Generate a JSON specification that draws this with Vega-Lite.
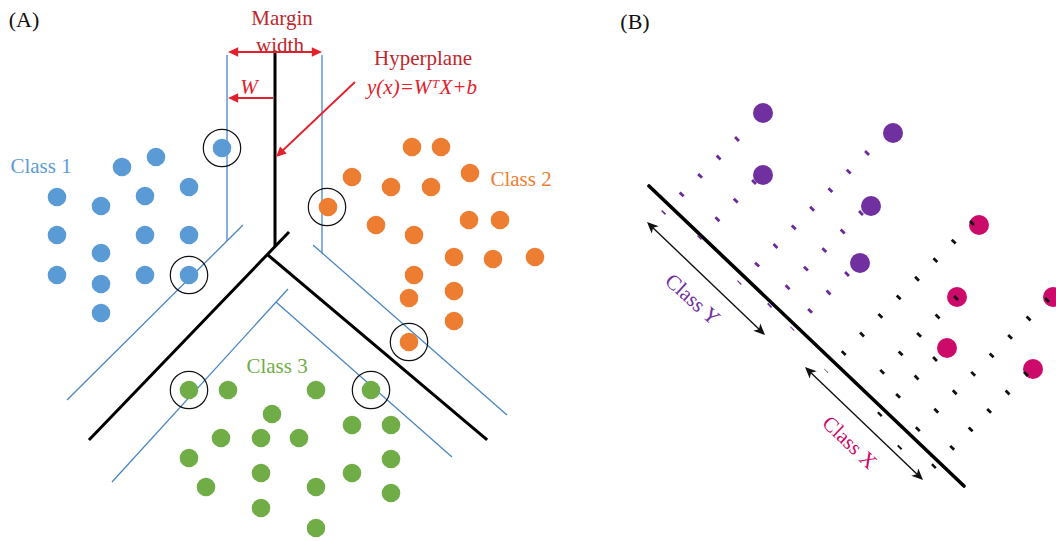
{
  "$schema": "https://vega.github.io/schema/vega-lite/v6.json",
  "width": 1056,
  "height": 541,
  "autosize": {"type": "none"},
  "padding": 0,
  "background": "white",
  "config": {"view": {"stroke": null}, "font": "Liberation Serif"},
  "datasets": {
    "segments": [
      {"k": "hA", "x": 275, "y": 52, "x2": 275, "y2": 245},
      {"k": "hA", "x": 288, "y": 233, "x2": 90, "y2": 439},
      {"k": "hA", "x": 268, "y": 255, "x2": 486, "y2": 439},
      {"k": "hB", "x": 649, "y": 186, "x2": 964, "y2": 486},
      {"k": "m", "x": 227, "y": 55, "x2": 227, "y2": 241},
      {"k": "m", "x": 67, "y": 400, "x2": 243, "y2": 225},
      {"k": "m", "x": 322, "y": 55, "x2": 322, "y2": 253},
      {"k": "m", "x": 313, "y": 245, "x2": 507, "y2": 415},
      {"k": "m", "x": 112, "y": 482, "x2": 288, "y2": 289},
      {"k": "m", "x": 276, "y": 302, "x2": 452, "y2": 457},
      {"k": "ra", "x": 231, "y": 52, "x2": 319, "y2": 52},
      {"k": "ra", "x": 273, "y": 98, "x2": 231, "y2": 98},
      {"k": "ra", "x": 355, "y": 82, "x2": 279, "y2": 154},
      {"k": "ba", "x": 650, "y": 225, "x2": 762, "y2": 332},
      {"k": "ba", "x": 808, "y": 370, "x2": 920, "y2": 477},
      {"k": "dY", "x": 738, "y": 138, "x2": 663, "y2": 213},
      {"k": "dY", "x": 755, "y": 181, "x2": 699, "y2": 238},
      {"k": "dY", "x": 868, "y": 152, "x2": 739, "y2": 283},
      {"k": "dY", "x": 862, "y": 212, "x2": 769, "y2": 306},
      {"k": "dY", "x": 848, "y": 273, "x2": 792, "y2": 329},
      {"k": "dX", "x": 973, "y": 222, "x2": 826, "y2": 371},
      {"k": "dX", "x": 957, "y": 297, "x2": 881, "y2": 373},
      {"k": "dX", "x": 936, "y": 358, "x2": 879, "y2": 415},
      {"k": "dX", "x": 1048, "y": 299, "x2": 899, "y2": 448},
      {"k": "dX", "x": 1027, "y": 373, "x2": 933, "y2": 467}
    ],
    "points": [
      {"cls": "Class 1", "p": "A", "x": 222, "y": 148},
      {"cls": "Class 1", "p": "A", "x": 122, "y": 167},
      {"cls": "Class 1", "p": "A", "x": 156, "y": 157},
      {"cls": "Class 1", "p": "A", "x": 57, "y": 197},
      {"cls": "Class 1", "p": "A", "x": 101, "y": 206},
      {"cls": "Class 1", "p": "A", "x": 145, "y": 196},
      {"cls": "Class 1", "p": "A", "x": 189, "y": 187},
      {"cls": "Class 1", "p": "A", "x": 57, "y": 235},
      {"cls": "Class 1", "p": "A", "x": 101, "y": 253},
      {"cls": "Class 1", "p": "A", "x": 145, "y": 235},
      {"cls": "Class 1", "p": "A", "x": 189, "y": 235},
      {"cls": "Class 1", "p": "A", "x": 57, "y": 275},
      {"cls": "Class 1", "p": "A", "x": 101, "y": 284},
      {"cls": "Class 1", "p": "A", "x": 145, "y": 275},
      {"cls": "Class 1", "p": "A", "x": 189, "y": 275},
      {"cls": "Class 1", "p": "A", "x": 101, "y": 313},
      {"cls": "Class 2", "p": "A", "x": 412, "y": 147},
      {"cls": "Class 2", "p": "A", "x": 441, "y": 147},
      {"cls": "Class 2", "p": "A", "x": 470, "y": 173},
      {"cls": "Class 2", "p": "A", "x": 352, "y": 177},
      {"cls": "Class 2", "p": "A", "x": 391, "y": 187},
      {"cls": "Class 2", "p": "A", "x": 431, "y": 187},
      {"cls": "Class 2", "p": "A", "x": 328, "y": 207},
      {"cls": "Class 2", "p": "A", "x": 469, "y": 220},
      {"cls": "Class 2", "p": "A", "x": 500, "y": 220},
      {"cls": "Class 2", "p": "A", "x": 376, "y": 225},
      {"cls": "Class 2", "p": "A", "x": 414, "y": 235},
      {"cls": "Class 2", "p": "A", "x": 454, "y": 257},
      {"cls": "Class 2", "p": "A", "x": 493, "y": 259},
      {"cls": "Class 2", "p": "A", "x": 535, "y": 257},
      {"cls": "Class 2", "p": "A", "x": 414, "y": 275},
      {"cls": "Class 2", "p": "A", "x": 409, "y": 298},
      {"cls": "Class 2", "p": "A", "x": 454, "y": 291},
      {"cls": "Class 2", "p": "A", "x": 454, "y": 321},
      {"cls": "Class 2", "p": "A", "x": 409, "y": 342},
      {"cls": "Class 3", "p": "A", "x": 189, "y": 390},
      {"cls": "Class 3", "p": "A", "x": 228, "y": 390},
      {"cls": "Class 3", "p": "A", "x": 316, "y": 390},
      {"cls": "Class 3", "p": "A", "x": 371, "y": 390},
      {"cls": "Class 3", "p": "A", "x": 272, "y": 414},
      {"cls": "Class 3", "p": "A", "x": 352, "y": 425},
      {"cls": "Class 3", "p": "A", "x": 391, "y": 425},
      {"cls": "Class 3", "p": "A", "x": 221, "y": 438},
      {"cls": "Class 3", "p": "A", "x": 261, "y": 438},
      {"cls": "Class 3", "p": "A", "x": 299, "y": 438},
      {"cls": "Class 3", "p": "A", "x": 189, "y": 458},
      {"cls": "Class 3", "p": "A", "x": 261, "y": 473},
      {"cls": "Class 3", "p": "A", "x": 352, "y": 473},
      {"cls": "Class 3", "p": "A", "x": 391, "y": 459},
      {"cls": "Class 3", "p": "A", "x": 206, "y": 487},
      {"cls": "Class 3", "p": "A", "x": 316, "y": 487},
      {"cls": "Class 3", "p": "A", "x": 391, "y": 493},
      {"cls": "Class 3", "p": "A", "x": 261, "y": 508},
      {"cls": "Class 3", "p": "A", "x": 316, "y": 528},
      {"cls": "Class Y", "p": "B", "x": 763, "y": 113},
      {"cls": "Class Y", "p": "B", "x": 893, "y": 133},
      {"cls": "Class Y", "p": "B", "x": 763, "y": 175},
      {"cls": "Class Y", "p": "B", "x": 871, "y": 206},
      {"cls": "Class Y", "p": "B", "x": 860, "y": 263},
      {"cls": "Class X", "p": "B", "x": 979, "y": 225},
      {"cls": "Class X", "p": "B", "x": 957, "y": 297},
      {"cls": "Class X", "p": "B", "x": 1053, "y": 297},
      {"cls": "Class X", "p": "B", "x": 947, "y": 348},
      {"cls": "Class X", "p": "B", "x": 1033, "y": 369}
    ],
    "support": [
      {"x": 222, "y": 148}, {"x": 189, "y": 275}, {"x": 327, "y": 207},
      {"x": 409, "y": 342}, {"x": 189, "y": 390}, {"x": 371, "y": 390}
    ],
    "heads": [
      {"p": "A", "x": 228, "y": 52, "a": 270},
      {"p": "A", "x": 322, "y": 52, "a": 90},
      {"p": "A", "x": 228, "y": 98, "a": 270},
      {"p": "A", "x": 276, "y": 157, "a": 226.5},
      {"p": "B", "x": 647, "y": 222, "a": 313.8},
      {"p": "B", "x": 765, "y": 335, "a": 133.8},
      {"p": "B", "x": 805, "y": 367, "a": 313.8},
      {"p": "B", "x": 923, "y": 480, "a": 133.8}
    ],
    "labels": [
      {"k": "title", "t": "(A)", "x": 24, "y": 20},
      {"k": "title", "t": "(B)", "x": 635, "y": 22},
      {"k": "dark", "t": "Margin", "x": 282, "y": 19},
      {"k": "dark", "t": "width", "x": 280, "y": 46},
      {"k": "dark", "t": "Hyperplane", "x": 423, "y": 59},
      {"k": "ital", "t": "y(x)=WᵀX+b", "x": 422, "y": 88},
      {"k": "ital", "t": "W", "x": 249, "y": 88}
    ],
    "classlabels": [
      {"cls": "Class 1", "x": 41, "y": 167, "a": 0},
      {"cls": "Class 2", "x": 521, "y": 180, "a": 0},
      {"cls": "Class 3", "x": 277, "y": 367, "a": 0},
      {"cls": "Class Y", "x": 692, "y": 300, "a": 42},
      {"cls": "Class X", "x": 849, "y": 443, "a": 44}
    ]
  },
  "layer": [
    {
      "data": {"name": "segments"},
      "transform": [{"filter": "datum.k == 'm'"}],
      "mark": {"type": "rule", "color": "#4a86c6", "strokeWidth": 1.3},
      "encoding": {
        "x": {"field": "x", "type": "quantitative", "scale": {"domain": [0, 1056], "nice": false, "zero": false}, "axis": null},
        "y": {"field": "y", "type": "quantitative", "scale": {"domain": [0, 541], "reverse": true, "nice": false, "zero": false}, "axis": null},
        "x2": {"field": "x2"},
        "y2": {"field": "y2"}
      }
    },
    {
      "data": {"name": "segments"},
      "transform": [{"filter": "datum.k == 'hA'"}],
      "mark": {"type": "rule", "color": "#000000", "strokeWidth": 3, "strokeCap": "square"},
      "encoding": {
        "x": {"field": "x", "type": "quantitative", "scale": {"domain": [0, 1056], "nice": false, "zero": false}, "axis": null},
        "y": {"field": "y", "type": "quantitative", "scale": {"domain": [0, 541], "reverse": true, "nice": false, "zero": false}, "axis": null},
        "x2": {"field": "x2"},
        "y2": {"field": "y2"}
      }
    },
    {
      "data": {"name": "segments"},
      "transform": [{"filter": "datum.k == 'hB'"}],
      "mark": {"type": "rule", "color": "#000000", "strokeWidth": 3.6, "strokeCap": "round"},
      "encoding": {
        "x": {"field": "x", "type": "quantitative", "scale": {"domain": [0, 1056], "nice": false, "zero": false}, "axis": null},
        "y": {"field": "y", "type": "quantitative", "scale": {"domain": [0, 541], "reverse": true, "nice": false, "zero": false}, "axis": null},
        "x2": {"field": "x2"},
        "y2": {"field": "y2"}
      }
    },
    {
      "data": {"name": "segments"},
      "transform": [{"filter": "datum.k == 'ra'"}],
      "mark": {"type": "rule", "color": "#e3202b", "strokeWidth": 1.8},
      "encoding": {
        "x": {"field": "x", "type": "quantitative", "scale": {"domain": [0, 1056], "nice": false, "zero": false}, "axis": null},
        "y": {"field": "y", "type": "quantitative", "scale": {"domain": [0, 541], "reverse": true, "nice": false, "zero": false}, "axis": null},
        "x2": {"field": "x2"},
        "y2": {"field": "y2"}
      }
    },
    {
      "data": {"name": "segments"},
      "transform": [{"filter": "datum.k == 'ba'"}],
      "mark": {"type": "rule", "color": "#111111", "strokeWidth": 1.4},
      "encoding": {
        "x": {"field": "x", "type": "quantitative", "scale": {"domain": [0, 1056], "nice": false, "zero": false}, "axis": null},
        "y": {"field": "y", "type": "quantitative", "scale": {"domain": [0, 541], "reverse": true, "nice": false, "zero": false}, "axis": null},
        "x2": {"field": "x2"},
        "y2": {"field": "y2"}
      }
    },
    {
      "data": {"name": "points"},
      "transform": [{"filter": "datum.p == 'A'"}],
      "mark": {"type": "circle", "opacity": 1, "size": 345},
      "encoding": {
        "x": {"field": "x", "type": "quantitative", "scale": {"domain": [0, 1056], "nice": false, "zero": false}, "axis": null},
        "y": {"field": "y", "type": "quantitative", "scale": {"domain": [0, 541], "reverse": true, "nice": false, "zero": false}, "axis": null},
        "color": {"field": "cls", "type": "nominal", "legend": null, "scale": {"domain": ["Class 1", "Class 2", "Class 3", "Class Y", "Class X"], "range": ["#5b9bd5", "#ed7d31", "#70ad47", "#7030a0", "#cc0a6a"]}}
      }
    },
    {
      "data": {"name": "points"},
      "transform": [{"filter": "datum.p == 'B'"}],
      "mark": {"type": "circle", "opacity": 1, "size": 400},
      "encoding": {
        "x": {"field": "x", "type": "quantitative", "scale": {"domain": [0, 1056], "nice": false, "zero": false}, "axis": null},
        "y": {"field": "y", "type": "quantitative", "scale": {"domain": [0, 541], "reverse": true, "nice": false, "zero": false}, "axis": null},
        "color": {"field": "cls", "type": "nominal", "legend": null, "scale": {"domain": ["Class 1", "Class 2", "Class 3", "Class Y", "Class X"], "range": ["#5b9bd5", "#ed7d31", "#70ad47", "#7030a0", "#cc0a6a"]}}
      }
    },
    {
      "data": {"name": "segments"},
      "transform": [{"filter": "datum.k == 'dY'"}],
      "mark": {"type": "rule", "color": "#6a2a9e", "strokeWidth": 5.5, "strokeDash": [2.8, 23.3], "strokeCap": "butt"},
      "encoding": {
        "x": {"field": "x", "type": "quantitative", "scale": {"domain": [0, 1056], "nice": false, "zero": false}, "axis": null},
        "y": {"field": "y", "type": "quantitative", "scale": {"domain": [0, 541], "reverse": true, "nice": false, "zero": false}, "axis": null},
        "x2": {"field": "x2"},
        "y2": {"field": "y2"}
      }
    },
    {
      "data": {"name": "segments"},
      "transform": [{"filter": "datum.k == 'dX'"}],
      "mark": {"type": "rule", "color": "#111111", "strokeWidth": 5.5, "strokeDash": [2.8, 23.3], "strokeCap": "butt"},
      "encoding": {
        "x": {"field": "x", "type": "quantitative", "scale": {"domain": [0, 1056], "nice": false, "zero": false}, "axis": null},
        "y": {"field": "y", "type": "quantitative", "scale": {"domain": [0, 541], "reverse": true, "nice": false, "zero": false}, "axis": null},
        "x2": {"field": "x2"},
        "y2": {"field": "y2"}
      }
    },
    {
      "data": {"name": "support"},
      "mark": {"type": "point", "shape": "circle", "filled": false, "stroke": "#111111", "strokeWidth": 1.2, "opacity": 1, "size": 1400},
      "encoding": {
        "x": {"field": "x", "type": "quantitative", "scale": {"domain": [0, 1056], "nice": false, "zero": false}, "axis": null},
        "y": {"field": "y", "type": "quantitative", "scale": {"domain": [0, 541], "reverse": true, "nice": false, "zero": false}, "axis": null}
      }
    },
    {
      "data": {"name": "heads"},
      "transform": [{"filter": "datum.p == 'A'"}],
      "mark": {"type": "point", "shape": "M0,0L0.8,1.7L-0.8,1.7Z", "filled": true, "color": "#e3202b", "opacity": 1, "size": 144},
      "encoding": {
        "x": {"field": "x", "type": "quantitative", "scale": {"domain": [0, 1056], "nice": false, "zero": false}, "axis": null},
        "y": {"field": "y", "type": "quantitative", "scale": {"domain": [0, 541], "reverse": true, "nice": false, "zero": false}, "axis": null},
        "angle": {"field": "a", "type": "quantitative", "scale": null}
      }
    },
    {
      "data": {"name": "heads"},
      "transform": [{"filter": "datum.p == 'B'"}],
      "mark": {"type": "point", "shape": "M0,0L0.85,1.9L0,1.4L-0.85,1.9Z", "filled": true, "color": "#111111", "opacity": 1, "size": 144},
      "encoding": {
        "x": {"field": "x", "type": "quantitative", "scale": {"domain": [0, 1056], "nice": false, "zero": false}, "axis": null},
        "y": {"field": "y", "type": "quantitative", "scale": {"domain": [0, 541], "reverse": true, "nice": false, "zero": false}, "axis": null},
        "angle": {"field": "a", "type": "quantitative", "scale": null}
      }
    },
    {
      "data": {"name": "labels"},
      "transform": [{"filter": "datum.k == 'title'"}],
      "mark": {"type": "text", "font": "Liberation Serif", "fontSize": 22, "color": "#111111", "align": "center", "baseline": "middle"},
      "encoding": {
        "x": {"field": "x", "type": "quantitative", "scale": {"domain": [0, 1056], "nice": false, "zero": false}, "axis": null},
        "y": {"field": "y", "type": "quantitative", "scale": {"domain": [0, 541], "reverse": true, "nice": false, "zero": false}, "axis": null},
        "text": {"field": "t"}
      }
    },
    {
      "data": {"name": "labels"},
      "transform": [{"filter": "datum.k == 'dark'"}],
      "mark": {"type": "text", "font": "Liberation Serif", "fontSize": 21, "color": "#c0262c", "align": "center", "baseline": "middle"},
      "encoding": {
        "x": {"field": "x", "type": "quantitative", "scale": {"domain": [0, 1056], "nice": false, "zero": false}, "axis": null},
        "y": {"field": "y", "type": "quantitative", "scale": {"domain": [0, 541], "reverse": true, "nice": false, "zero": false}, "axis": null},
        "text": {"field": "t"}
      }
    },
    {
      "data": {"name": "labels"},
      "transform": [{"filter": "datum.k == 'ital'"}],
      "mark": {"type": "text", "font": "Liberation Serif", "fontSize": 21, "fontStyle": "italic", "color": "#e3202b", "align": "center", "baseline": "middle"},
      "encoding": {
        "x": {"field": "x", "type": "quantitative", "scale": {"domain": [0, 1056], "nice": false, "zero": false}, "axis": null},
        "y": {"field": "y", "type": "quantitative", "scale": {"domain": [0, 541], "reverse": true, "nice": false, "zero": false}, "axis": null},
        "text": {"field": "t"}
      }
    },
    {
      "data": {"name": "classlabels"},
      "mark": {"type": "text", "font": "Liberation Serif", "fontSize": 21, "align": "center", "baseline": "middle"},
      "encoding": {
        "x": {"field": "x", "type": "quantitative", "scale": {"domain": [0, 1056], "nice": false, "zero": false}, "axis": null},
        "y": {"field": "y", "type": "quantitative", "scale": {"domain": [0, 541], "reverse": true, "nice": false, "zero": false}, "axis": null},
        "text": {"field": "cls"},
        "angle": {"field": "a", "type": "quantitative", "scale": null},
        "color": {"field": "cls", "type": "nominal", "legend": null, "scale": {"domain": ["Class 1", "Class 2", "Class 3", "Class Y", "Class X"], "range": ["#5b9bd5", "#ed7d31", "#70ad47", "#7030a0", "#cc0a6a"]}}
      }
    }
  ]
}
